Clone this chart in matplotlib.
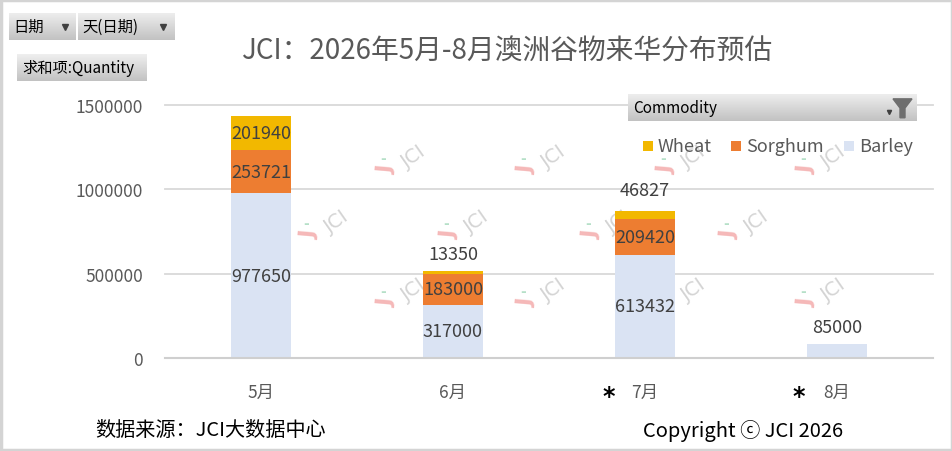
import numpy as np
import matplotlib
matplotlib.use("Agg")
import matplotlib.pyplot as plt
from matplotlib.colors import LinearSegmentedColormap
from matplotlib.patches import Rectangle, Polygon

plt.rcParams['font.family'] = ['Noto Sans CJK SC', 'DejaVu Sans']

# ---------------- data ----------------
months = ["5月", "6月", "7月", "8月"]
barley = [977650, 317000, 613432, 85000]
sorghum = [253721, 183000, 209420, 0]
wheat = [201940, 13350, 46827, 0]
yticks = [0, 500000, 1000000, 1500000]
series_names = ["Wheat", "Sorghum", "Barley"]

title = "JCI：2026年5月-8月澳洲谷物来华分布预估"
source_text = "数据来源：JCI大数据中心"
copyright_text = "Copyright ⓒ JCI 2026"

C_WHEAT = "#F2B800"
C_SORG = "#ED7D31"
C_BARL = "#DAE3F3"
GRAY_TXT = "#595959"
LBL_TXT = "#404040"

W, H = 953, 452
fig = plt.figure(figsize=(W / 100, H / 100), dpi=100)
fig.patch.set_facecolor("white")

def fx(px):
    return px / W

def fy(py):
    return 1 - py / H

# main axes
ax = fig.add_axes([fx(165), fy(359), (933 - 165) / W, (359 - 106) / H])
ax.set_xlim(-0.5, len(months) - 0.5)
ax.set_ylim(0, 1500000)
ax.set_facecolor("none")
for s in ax.spines.values():
    s.set_visible(False)
ax.set_yticks(yticks)
ax.set_yticklabels([str(v) for v in yticks], color=GRAY_TXT, fontsize=12.5)
ax.tick_params(axis="y", length=0, pad=16)
ax.set_xticks(range(len(months)))
ax.set_xticklabels(months, color=GRAY_TXT, fontsize=12.5)
ax.tick_params(axis="x", length=0, pad=18)
for v in yticks[1:]:
    ax.axhline(v, color="#d9d9d9", lw=1.3, zorder=0.5, clip_on=False)
ax.axhline(0, color="#cfcfcf", lw=1.5, zorder=3, clip_on=False)

x = np.arange(len(months))
bw = 0.3125
barley_a = np.array(barley)
sorg_a = np.array(sorghum)
wheat_a = np.array(wheat)
ax.bar(x, barley_a, bw, color=C_BARL, zorder=2)
ax.bar(x, sorg_a, bw, bottom=barley_a, color=C_SORG, zorder=2)
ax.bar(x, wheat_a, bw, bottom=barley_a + sorg_a, color=C_WHEAT, zorder=2)

# data labels
big = 100000
for i in range(len(months)):
    segs = [(barley_a[i], 0), (sorg_a[i], barley_a[i]), (wheat_a[i], barley_a[i] + sorg_a[i])]
    for val, bot in segs:
        if val <= 0:
            continue
        if val >= big:
            ax.text(x[i], bot + val / 2, str(val), ha="center", va="center",
                    fontsize=13, color=LBL_TXT, zorder=4)
# small labels placed above the stacks (offset in pixels)
above_offsets = {1: 17, 2: 21, 3: 17}
for i, off in above_offsets.items():
    top = barley_a[i] + sorg_a[i] + wheat_a[i]
    val = wheat_a[i] if wheat_a[i] > 0 else barley_a[i]
    ax.annotate(str(val), (x[i], top), xytext=(0, off * 0.72), textcoords="offset points",
                ha="center", va="center", fontsize=13, color=LBL_TXT, zorder=4)

# watermarks
def watermark(px, py):
    ang = 35
    ax.text(fx(px), fy(py), "J", transform=fig.transFigure, rotation=85,
            ha="center", va="center", fontsize=16, fontweight="bold",
            color="#f5b8b8", zorder=1, family="DejaVu Sans")
    ax.text(fx(px - 4), fy(py - 11), "-", transform=fig.transFigure, rotation=0,
            ha="center", va="center", fontsize=10, fontweight="bold",
            color="#b5e0c8", zorder=1, family="DejaVu Sans")
    ax.text(fx(px + 27), fy(py - 13), "JCI", transform=fig.transFigure, rotation=ang,
            ha="center", va="center", fontsize=14, color="#d4d4d4", zorder=1,
            family="DejaVu Sans")

for (px, py) in [(387, 170), (527, 170), (667, 170), (807, 170),
                 (310, 235), (450, 235), (592, 235), (730, 235),
                 (387, 303), (527, 303), (667, 303), (807, 303)]:
    watermark(px, py)

# title
fig.text(fx(507), fy(52), title, ha="center", va="center", fontsize=20, color=GRAY_TXT)

# buttons
cmap_btn = LinearSegmentedColormap.from_list("btn", ["#efefef", "#c2c2c2"])
grad = np.linspace(0, 1, 64).reshape(-1, 1)

def button(x0, y0, x1, y1):
    b = fig.add_axes([fx(x0), fy(y1), (x1 - x0) / W, (y1 - y0) / H])
    b.imshow(grad, aspect="auto", cmap=cmap_btn, extent=[0, 1, 0, 1], origin="upper")
    b.set_xlim(0, 1)
    b.set_ylim(0, 1)
    b.axis("off")
    return b

b1 = button(9, 14, 76, 41)
b1.text(4 / 67, 0.5, "日期", ha="left", va="center", fontsize=11, color="black")
b1.plot([56 / 67], [0.5], marker="v", color="#404040", markersize=4)
b2 = button(78, 14, 175, 41)
b2.text(4 / 97, 0.5, "天(日期)", ha="left", va="center", fontsize=11, color="black")
b2.plot([85 / 97], [0.5], marker="v", color="#404040", markersize=4)
b3 = button(17, 55, 147, 82)
b3.text(5 / 130, 0.5, "求和项:Quantity", ha="left", va="center", fontsize=11, color="black")
b4 = button(628, 95, 917, 122)
b4.text(5 / 289, 0.5, "Commodity", ha="left", va="center", fontsize=11, color="black")
bw4 = 289
b4.plot([261 / bw4], [0.35], marker="v", color="#404040", markersize=3)
funnel = Polygon([[265 / bw4, 0.82], [284 / bw4, 0.82], [277 / bw4, 0.48],
                  [277 / bw4, 0.12], [272 / bw4, 0.12], [272 / bw4, 0.48]],
                 closed=True, color="#6e6e6e")
b4.add_patch(funnel)

# legend
leg_items = [(643, "Wheat", C_WHEAT), (731, "Sorghum", C_SORG), (844, "Barley", C_BARL)]
for (px, name, col) in leg_items:
    fig.patches.append(Rectangle((fx(px), fy(152)), 10 / W, 10 / H, transform=fig.transFigure,
                                 facecolor=col, edgecolor="none", figure=fig))
    fig.text(fx(px + 15), fy(147), name, ha="left", va="center", fontsize=13, color=GRAY_TXT)

# asterisks
for px in [609, 799]:
    fig.text(fx(px), fy(397), "*", ha="center", va="center", fontsize=17,
             fontweight="bold", color="black", family="DejaVu Sans")

# footer
fig.text(fx(95), fy(431), source_text, ha="left", va="center", fontsize=14.5, color="black")
fig.text(fx(643), fy(431), copyright_text, ha="left", va="center", fontsize=14.5, color="black")

# outer frame
fig.patches.append(Rectangle((0.0015, 0.003), 0.997, 0.994, transform=fig.transFigure,
                             facecolor="none", edgecolor="#d4d4d4", lw=2.5, figure=fig))

fig.savefig("out.png", dpi=100, facecolor="white")
